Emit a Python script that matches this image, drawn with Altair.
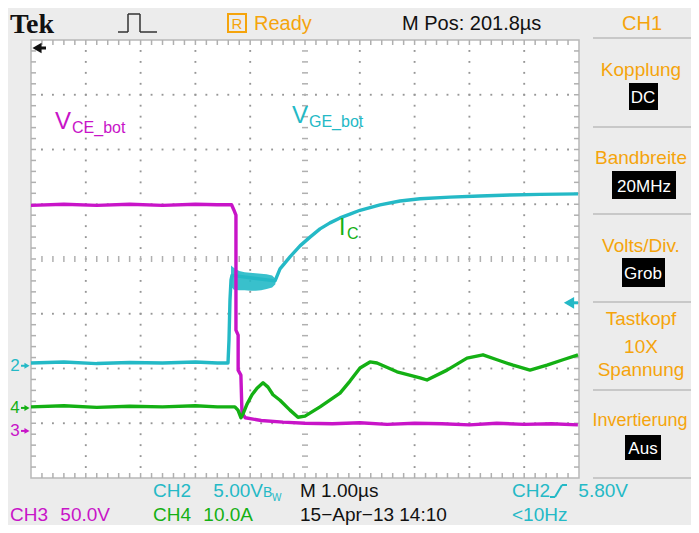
import altair as alt
import numpy as np
import pandas as pd

# ---------------- colours ----------------
MAGENTA = "#c814c8"
CYAN = "#24b9c6"
GREEN = "#14b014"
ORANGE = "#f5a40c"

# ---------------- traces (x: divisions, 1.00 us/div ; y: screen divisions, centre = 0) ----------------
vce_x = [0.00, 0.60, 1.20, 1.80, 2.40, 3.00, 3.40, 3.66, 3.70, 3.74, 3.74, 3.78, 3.78, 3.83, 3.85, 3.91,
         4.20, 4.60, 5.00, 5.50, 6.00, 6.50, 7.00, 7.50, 8.00, 8.50, 9.00, 9.50, 9.98]
vce_y = [0.98, 1.00, 0.98, 1.00, 0.98, 1.00, 0.99, 0.99, 0.90, 0.80, -1.30, -1.39, -2.03, -2.12, -2.81, -2.90,
         -2.95, -2.98, -3.00, -3.01, -2.99, -3.02, -3.00, -3.01, -3.03, -3.00, -3.02, -3.01, -3.03]

vge_x = [0.00, 0.60, 1.20, 1.80, 2.40, 3.00, 3.40, 3.595, 3.613, 3.631, 3.650, 3.668,
         4.453, 4.544, 4.726, 4.909, 5.091, 5.274, 5.456, 5.639, 5.821, 6.004, 6.369, 6.734, 7.099, 7.646,
         8.193, 8.741, 9.288, 9.982]
vge_y = [-1.90, -1.88, -1.91, -1.89, -1.90, -1.88, -1.90, -1.90, -1.48, -0.75, -0.38, -0.30,
         -0.40, -0.18, 0.04, 0.24, 0.40, 0.55, 0.66, 0.75, 0.82, 0.89, 0.99, 1.06, 1.10, 1.13,
         1.15, 1.17, 1.18, 1.19]
# noisy plateau of V_GE (Miller plateau): upper / lower envelope of the noise band
plateau_x = [3.650, 3.700, 3.800, 3.900, 4.000, 4.100, 4.200, 4.300, 4.400, 4.460]
plateau_hi = [-0.12, -0.16, -0.22, -0.24, -0.25, -0.26, -0.27, -0.28, -0.30, -0.36]
plateau_lo = [-0.50, -0.56, -0.57, -0.57, -0.58, -0.58, -0.57, -0.55, -0.52, -0.46]

ic_x = [0.00, 0.60, 1.20, 1.80, 2.40, 3.00, 3.40, 3.72, 3.777, 3.832, 3.869, 3.942, 4.033, 4.124, 4.234,
        4.325, 4.416, 4.544, 4.726, 4.872, 5.000, 5.274, 5.639, 5.821, 6.004, 6.186, 6.314, 6.679, 7.099,
        7.226, 7.591, 7.956, 8.248, 8.504, 8.796, 9.106, 9.416, 9.708, 9.982]
ic_y = [-2.70, -2.68, -2.71, -2.69, -2.70, -2.68, -2.70, -2.70, -2.76, -2.90, -2.83, -2.65, -2.48, -2.36, -2.26,
        -2.34, -2.48, -2.58, -2.76, -2.89, -2.87, -2.70, -2.45, -2.23, -1.99, -1.88, -1.90, -2.06, -2.17,
        -2.21, -2.03, -1.81, -1.75, -1.84, -1.94, -2.03, -1.94, -1.84, -1.75]

# channel ground markers and trigger level (screen divisions)
marker_labels = ["2", "4", "3"]
marker_levels = [-1.95, -2.72, -3.14]
marker_colors = [CYAN, GREEN, MAGENTA]
trigger_level = [-0.80]

# ---------------- layout ----------------
FONT = "Liberation Sans, Arial, sans-serif"
PL, PT = 31, 40          # plot-area origin on the page
W, H = 548, 438

xs = alt.Scale(domain=[0, 10], nice=False, zero=False)
ys = alt.Scale(domain=[-4, 4], nice=False, zero=False)


def X(f):
    return alt.X(f, type="quantitative", scale=xs, axis=None)


def Y(f):
    return alt.Y(f, type="quantitative", scale=ys, axis=None)


one = pd.DataFrame({"k": [0]})


def text(s, x, y, color="#111111", size=19, align="left", font=FONT, weight="normal"):
    return alt.Chart(one).mark_text(
        text=s, color=color, fontSize=size, align=align, baseline="alphabetic",
        font=font, fontWeight=weight
    ).encode(x=alt.value(x - PL), y=alt.value(y - PT))


def box(x1, x2, y1, y2, fill="black"):
    return alt.Chart(one).mark_rect(fill=fill).encode(
        x=alt.value(x1 - PL), x2=alt.value(x2 - PL), y=alt.value(y1 - PT), y2=alt.value(y2 - PT))


def seg(x1, y1, x2, y2, color="#222222", sw=1.5):
    return alt.Chart(one).mark_rule(color=color, strokeWidth=sw).encode(
        x=alt.value(x1 - PL), y=alt.value(y1 - PT), x2=alt.value(x2 - PL), y2=alt.value(y2 - PT))


layers = []

# ---------------- graticule ----------------
minor_x = np.round(np.arange(0.2, 10.0, 0.2), 2)
minor_y = np.round(np.arange(-3.8, 4.0, 0.2), 2)
dots = []
for gx in [1, 2, 3, 4, 6, 7, 8, 9]:
    for yy in minor_y:
        dots.append((gx, yy))
for gy in [-3, -2, -1, 1, 2, 3]:
    for xx in minor_x:
        dots.append((xx, gy))
dots_df = pd.DataFrame(dots, columns=["x", "y"])
layers.append(alt.Chart(dots_df).mark_square(size=3.5, color="#969696", opacity=1).encode(x=X("x"), y=Y("y")))

GRID_C = "#b0b0b0"
vt = pd.DataFrame({"x": minor_x})
ht = pd.DataFrame({"y": minor_y})
layers.append(alt.Chart(vt).mark_tick(orient="vertical", size=6, thickness=1.5, color=GRID_C, opacity=1)
              .encode(x=X("x"), y=alt.value(H / 2)))
layers.append(alt.Chart(vt).mark_tick(orient="vertical", size=5, thickness=1.5, color=GRID_C, opacity=1, yOffset=2.5)
              .encode(x=X("x"), y=alt.value(0)))
layers.append(alt.Chart(vt).mark_tick(orient="vertical", size=5, thickness=1.5, color=GRID_C, opacity=1, yOffset=-2.5)
              .encode(x=X("x"), y=alt.value(H)))
layers.append(alt.Chart(ht).mark_tick(orient="horizontal", size=6, thickness=1.5, color=GRID_C, opacity=1)
              .encode(y=Y("y"), x=alt.value(W / 2)))
layers.append(alt.Chart(ht).mark_tick(orient="horizontal", size=5, thickness=1.5, color=GRID_C, opacity=1, xOffset=2.5)
              .encode(y=Y("y"), x=alt.value(0)))
layers.append(alt.Chart(ht).mark_tick(orient="horizontal", size=5, thickness=1.5, color=GRID_C, opacity=1, xOffset=-2.5)
              .encode(y=Y("y"), x=alt.value(W)))

# ---------------- traces ----------------
def trace(xv, yv, color):
    df = pd.DataFrame({"x": xv, "y": yv, "i": range(len(xv))})
    return alt.Chart(df).mark_line(color=color, strokeWidth=3.4, strokeJoin="round").encode(
        x=X("x"), y=Y("y"), order=alt.Order("i:Q"))


pl = pd.DataFrame({"x": plateau_x, "hi": plateau_hi, "lo": plateau_lo})
layers.append(alt.Chart(pl).mark_area(color=CYAN, opacity=0.9).encode(x=X("x"), y=Y("hi"), y2="lo"))
layers.append(trace(vge_x, vge_y, CYAN))
layers.append(trace(vce_x, vce_y, MAGENTA))
layers.append(trace(ic_x, ic_y, GREEN))

# ---------------- channel markers ----------------
mk = pd.DataFrame({"lab": marker_labels, "lev": marker_levels, "col": marker_colors})
layers.append(alt.Chart(mk).mark_text(fontSize=17, font=FONT, align="center", baseline="middle").encode(
    x=alt.value(15 - PL), y=Y("lev"), text="lab:N", color=alt.Color("col:N", scale=None)))
layers.append(alt.Chart(mk).mark_rule(strokeWidth=2).encode(
    x=alt.value(21 - PL), x2=alt.value(26 - PL), y=Y("lev"), color=alt.Color("col:N", scale=None)))
layers.append(alt.Chart(mk).mark_point(shape="triangle-right", filled=True, size=35, opacity=1).encode(
    x=alt.value(27 - PL), y=Y("lev"), color=alt.Color("col:N", scale=None)))

tr = pd.DataFrame({"lev": trigger_level})
layers.append(alt.Chart(tr).mark_point(shape="triangle-left", filled=True, size=140, opacity=1, color=CYAN).encode(
    x=alt.value(569 - PL), y=Y("lev")))
layers.append(alt.Chart(tr).mark_rule(strokeWidth=3, color=CYAN).encode(
    x=alt.value(569 - PL), x2=alt.value(578 - PL), y=Y("lev")))

# trigger position arrow (top left)
layers.append(alt.Chart(one).mark_point(shape="triangle-left", filled=True, size=110, opacity=1, color="#111").encode(
    x=alt.value(37 - PL), y=alt.value(48 - PT)))
layers.append(seg(38, 48, 46, 48, "#111", 3))

# ---------------- trace labels ----------------
layers.append(text("V", 55, 129, MAGENTA, 24))
layers.append(text("CE_bot", 72, 133, MAGENTA, 16))
layers.append(text("V", 292, 123, CYAN, 24))
layers.append(text("GE_bot", 309, 127, CYAN, 16))
layers.append(text("I", 339, 235, GREEN, 23))
layers.append(text("C", 347, 239, GREEN, 16))

# ---------------- header ----------------
layers.append(text("Tek", 10, 33, "#111111", 28, font="Liberation Serif, DejaVu Serif, serif", weight="bold"))
for (a, b, c, d) in [(118, 32, 128, 32), (128, 32, 128, 14), (128, 14, 140, 14), (140, 14, 140, 32), (140, 32, 157, 32)]:
    layers.append(seg(a, b, c, d, "#333333", 1.5))
layers.append(alt.Chart(one).mark_rect(fillOpacity=0, stroke=ORANGE, strokeWidth=2).encode(
    x=alt.value(228 - PL), x2=alt.value(246 - PL), y=alt.value(14 - PT), y2=alt.value(32 - PT)))
layers.append(text("R", 237, 29, ORANGE, 15, align="center"))
layers.append(text("Ready", 254, 30, ORANGE, 20))
layers.append(text("M Pos: 201.8\u00b5s", 402, 30, "#111111", 20))
layers.append(text("CH1", 642, 30, ORANGE, 20, align="center"))

# ---------------- right menu ----------------
for yy in [38, 127, 214, 302, 390, 478]:
    layers.append(seg(593, yy, 693, yy, "#bcbcbc", 1.5))
CX = 641
PS = 19
layers.append(text("Kopplung", CX, 76, ORANGE, PS, align="center"))
layers.append(box(629, 658, 83, 110))
layers.append(text("DC", 643, 103, "white", 17, align="center"))
layers.append(text("Bandbreite", CX, 164, ORANGE, PS, align="center"))
layers.append(box(612, 676, 171, 199))
layers.append(text("20MHz", 644, 192, "white", 17, align="center"))
layers.append(text("Volts/Div.", CX, 252, ORANGE, PS, align="center"))
layers.append(box(622, 665, 258, 287))
layers.append(text("Grob", 643, 279, "white", 17, align="center"))
layers.append(text("Tastkopf", CX, 325, ORANGE, PS, align="center"))
layers.append(text("10X", CX, 353, ORANGE, PS, align="center"))
layers.append(text("Spannung", CX, 376, ORANGE, PS, align="center"))
layers.append(text("Invertierung", 640, 426, ORANGE, 18, align="center"))
layers.append(box(625, 661, 435, 460))
layers.append(text("Aus", 643, 454, "white", 17, align="center"))

# ---------------- bottom status ----------------
BS = 19
layers.append(text("CH2", 153, 497, CYAN, BS))
layers.append(text("5.00V", 263, 497, CYAN, BS, align="right"))
layers.append(text("B", 263, 497, CYAN, 14))
layers.append(text("W", 272, 501, CYAN, 10))
layers.append(text("M 1.00\u00b5s", 300, 497, "#111111", BS))
layers.append(text("CH2", 512, 497, CYAN, BS))
layers.append(seg(550, 497, 555, 497, CYAN, 2))
layers.append(seg(555, 497, 562, 485, CYAN, 2))
layers.append(seg(562, 485, 567, 485, CYAN, 2))
layers.append(text("5.80V", 628, 497, CYAN, BS, align="right"))
RB = 521
layers.append(text("CH3", 10, RB, MAGENTA, BS))
layers.append(text("50.0V", 110, RB, MAGENTA, BS, align="right"))
layers.append(text("CH4", 153, RB, GREEN, BS))
layers.append(text("10.0A", 253, RB, GREEN, BS, align="right"))
layers.append(text("15\u2212Apr\u221213 14:10", 300, RB, "#111111", BS))
layers.append(text("<10Hz", 512, RB, CYAN, BS))

chart = alt.layer(*layers).properties(
    width=W, height=H,
    background="#ececec",
    padding={"left": PL - 8, "top": PT - 8, "right": 683 - (PL - 8) - W, "bottom": 47},
    autosize=alt.AutoSizeParams(type="none"),
).configure_view(fill="white", stroke="#b8b8b8", strokeWidth=1.5)

chart.save("out.html", embed_options={"renderer": "svg", "actions": False})
